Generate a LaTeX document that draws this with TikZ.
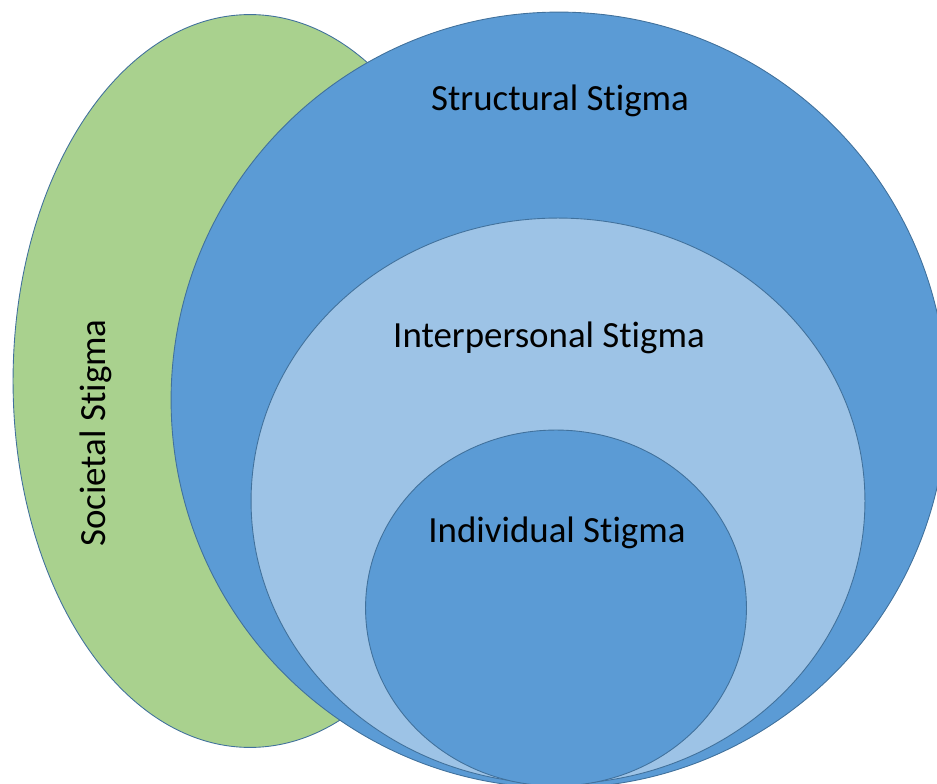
\documentclass[tikz,border=0pt]{standalone}
\usepackage{fontspec}
\setmainfont[Ligatures=NoCommon]{Carlito}
\usetikzlibrary{shapes.geometric}

\definecolor{leafgreen}{HTML}{A9D18E}
\definecolor{midblue}{HTML}{5B9BD5}
\definecolor{paleblue}{HTML}{9DC3E6}
\definecolor{rimblue}{HTML}{41719C}

\begin{document}
\begin{tikzpicture}[x=0.02cm, y=-0.02cm]

\tikzset{ring/.style = {shape=ellipse,draw=rimblue,line width=0.5pt,inner sep=0pt}}
\tikzset{tag/.style = {font=\fontsize{21}{25}\selectfont,text=black}}
\useasboundingbox (0,0) rectangle (937,784);
\clip (0,0) rectangle (937,784);
%shapes
\node[ring, fill=leafgreen, minimum width=9.48cm, minimum height=14.66cm] (societal) at (250,381) {};
\node[ring, fill=midblue, minimum width=15.52cm, minimum height=15.52cm] (structural) at (559,400) {};
\node[ring, fill=paleblue, minimum width=12.28cm, minimum height=11.32cm] (interpersonal) at (558,501) {};
\node[ring, fill=midblue, minimum width=7.62cm, minimum height=7.12cm] (individual) at (556,608) {};
%labels
\node[tag] (t1) at (560,101) {Structural Stigma};
\node[tag] (t2) at (549,338) {Interpersonal Stigma};
\node[tag] (t3) at (557,533) {Individual Stigma};
\node[tag, rotate=90] (t4) at (96,433) {Societal Stigma};

\end{tikzpicture}
\end{document}
